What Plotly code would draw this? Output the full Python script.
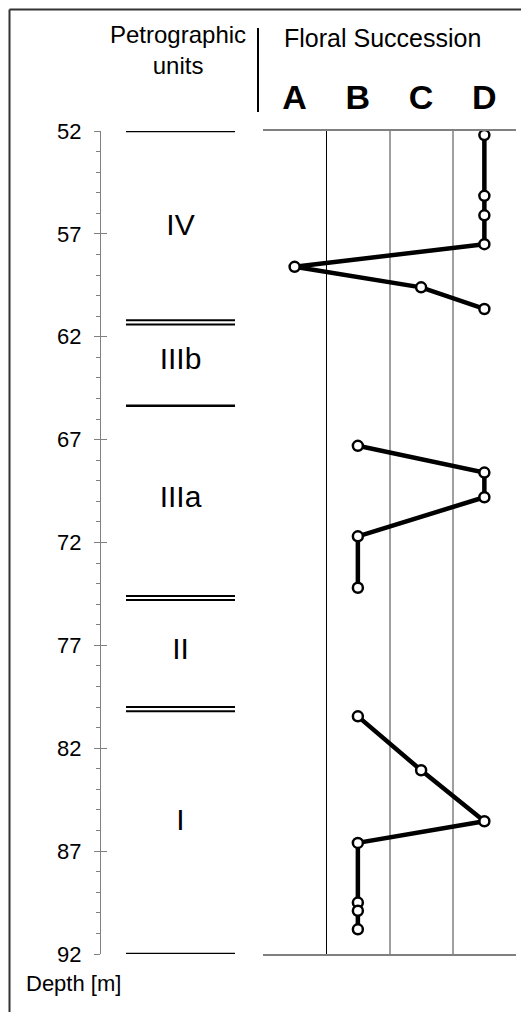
import plotly.graph_objects as go

W, H = 529, 1012
OFF = 8  # page body margin shifts the figure by 8 px

# floral succession samples (depth in m, stage letter); None breaks the line
floral_depth = [52.2, 55.15, 56.1, 57.5, 58.6, 59.6, 60.65, None,
                67.3, 68.6, 69.8, 71.7, 74.2, None,
                80.45, 83.07, 85.55, 86.6, 89.5, 89.9, 90.8]
floral_stage = ["D", "D", "D", "D", "A", "C", "D", None,
                "B", "D", "D", "B", "B", None,
                "B", "C", "D", "B", "B", "B", "B"]
stages = ["A", "B", "C", "D"]
stage_x = {"A": -0.5, "B": 0.5, "C": 1.5, "D": 2.5}

# petrographic unit boundaries and labels
unit_bounds = [52.0, 61.3, 65.35, 74.7, 80.1, 92.0]
unit_double = [False, True, False, True, True, False]
unit_names = ["IV", "IIIb", "IIIa", "II", "I"]
unit_label_depth = [56.7, 63.2, 69.9, 77.3, 85.6]

depth_ticks = list(range(52, 93, 5))

FONT = "Arial, Liberation Sans, sans-serif"


def px(x):
    return (x - OFF) / W


def py(y):
    return 1 - (y - OFF) / H


fig = go.Figure()

# petrographic boundary lines
for d, dbl in zip(unit_bounds, unit_double):
    levels = [d - 0.1, d + 0.1] if dbl else [d]
    for lv in levels:
        fig.add_trace(go.Scatter(
            x=[0, 1], y=[lv, lv], xaxis="x3", yaxis="y", mode="lines",
            line=dict(color="black", width=2 if dbl else 2.5),
            hoverinfo="skip", showlegend=False,
        ))

fig.add_trace(go.Scatter(
    x=[0.5] * len(unit_names), y=unit_label_depth, xaxis="x3", yaxis="y",
    mode="text", text=unit_names,
    textfont=dict(family=FONT, size=30, color="black"),
    hoverinfo="skip", showlegend=False,
))

# floral succession curve
fig.add_trace(go.Scatter(
    x=[stage_x[s] if s else None for s in floral_stage],
    y=floral_depth, xaxis="x", yaxis="y",
    mode="lines+markers", connectgaps=False,
    line=dict(color="black", width=4.5),
    marker=dict(symbol="circle", size=10, color="white",
                line=dict(color="black", width=2.5)),
    showlegend=False,
))

# dummy trace so the top letter axis renders
fig.add_trace(go.Scatter(
    x=[stage_x[s] for s in stages], y=[None] * 4, xaxis="x2", yaxis="y",
    mode="markers", showlegend=False, hoverinfo="skip",
))

# overlay axis for major ticks crossing the depth line
fig.add_trace(go.Scatter(
    x=[None], y=[None], xaxis="x3", yaxis="y2", showlegend=False,
))

plot_dom = [px(263), px(516)]
ydom = [py(954), py(131)]

fig.update_layout(
    template="none",
    width=W, height=H,
    margin=dict(l=0, r=0, t=0, b=0),
    paper_bgcolor="white", plot_bgcolor="rgba(0,0,0,0)",
    font=dict(family=FONT, color="black"),
    xaxis=dict(
        domain=plot_dom, range=[-1, 3], anchor="y",
        tickvals=[0, 1, 2, 3], showticklabels=False, ticks="",
        showgrid=True, gridcolor="#a0a0a0", gridwidth=1.5,
        zeroline=True, zerolinecolor="black", zerolinewidth=1,
        showline=True, mirror=True, linecolor="#808080", linewidth=1.5,
        fixedrange=True,
    ),
    xaxis2=dict(
        domain=plot_dom, range=[-1, 3], anchor="y", overlaying="x",
        side="top", tickvals=[stage_x[s] for s in stages], ticktext=stages,
        showgrid=False, zeroline=False, showline=False, ticks="",
        ticklabelstandoff=14,
        tickfont=dict(family="Liberation Sans Narrow, Arial, sans-serif",
                      size=34, color="black", weight="bold"),
    ),
    xaxis3=dict(
        domain=[px(126), px(235)], range=[0, 1], anchor="y",
        visible=False, fixedrange=True,
    ),
    yaxis=dict(
        domain=ydom, range=[92, 52], anchor="free", position=px(100),
        tickvals=depth_ticks, ticks="outside", ticklen=6, tickwidth=1,
        tickcolor="#808080", ticklabelstandoff=8,
        tickfont=dict(family=FONT, size=22, color="black"),
        minor=dict(dtick=1, tick0=52, ticks="outside", ticklen=4,
                   tickcolor="#808080", tickwidth=1, showgrid=False),
        showline=True, linecolor="#808080", linewidth=1,
        showgrid=False, zeroline=False, fixedrange=True,
    ),
    yaxis2=dict(
        domain=ydom, range=[92, 52], anchor="free", position=px(100),
        overlaying="y", tickvals=depth_ticks, ticks="inside", ticklen=6,
        tickwidth=1, tickcolor="#808080", showticklabels=False,
        showline=False, showgrid=False, zeroline=False,
    ),
    shapes=[
        # outer frame (left and top edges)
        dict(type="line", xref="paper", yref="paper", layer="above",
             x0=1.5 / W, x1=1.5 / W, y0=0, y1=1 - 1.5 / H,
             line=dict(color="#333333", width=2)),
        dict(type="line", xref="paper", yref="paper", layer="above",
             x0=1.5 / W, x1=1, y0=1 - 1.5 / H, y1=1 - 1.5 / H,
             line=dict(color="#333333", width=2)),
        # header separator
        dict(type="line", xref="paper", yref="paper",
             x0=px(258), x1=px(258), y0=py(112), y1=py(28),
             line=dict(color="black", width=2)),
    ],
    annotations=[
        dict(text="Petrographic<br>units", xref="paper", yref="paper",
             x=px(178), y=py(50), xanchor="center", yanchor="middle",
             showarrow=False, font=dict(family=FONT, size=24)),
        dict(text="Floral Succession", xref="paper", yref="paper",
             x=px(382), y=py(38), xanchor="center", yanchor="middle",
             showarrow=False, font=dict(family=FONT, size=25)),
        dict(text="Depth [m]", xref="paper", yref="paper",
             x=px(24), y=py(983), xanchor="left", yanchor="middle",
             showarrow=False, font=dict(family=FONT, size=22)),
    ],
)

fig.write_html("out.html")
